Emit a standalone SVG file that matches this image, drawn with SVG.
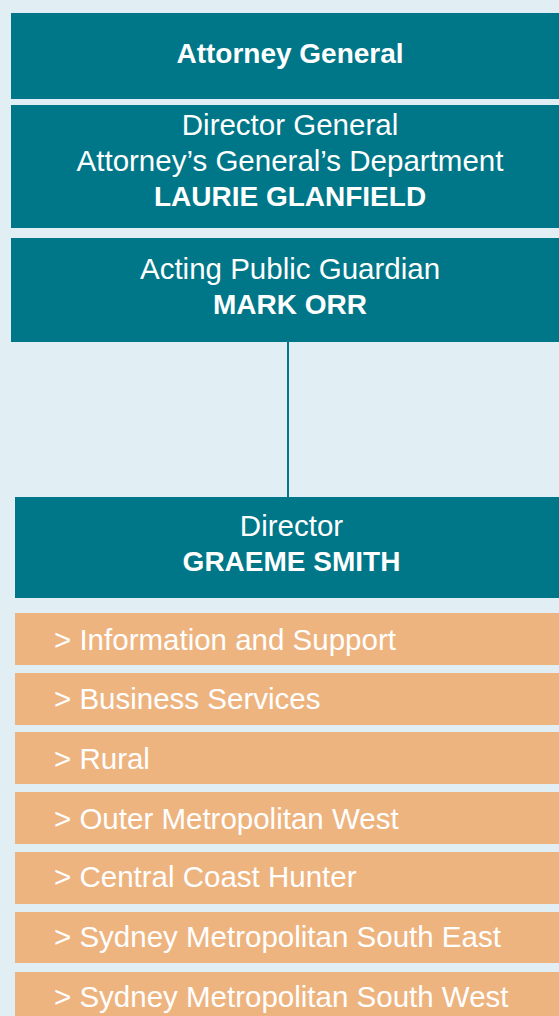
<svg xmlns="http://www.w3.org/2000/svg" width="559" height="1016" viewBox="0 0 559 1016">
  <style>
    .teal { fill: #007788; }
    .unit { fill: #eeb480; }
    .t { font-family: "Liberation Sans", Arial, Helvetica, sans-serif; font-size: 29.5px; fill: #ffffff; }
    .c { text-anchor: middle; }
    .b { font-weight: bold; font-size: 28px; }
    .link { stroke: #007788; stroke-width: 2; fill: none; }
  </style>
  <rect width="559" height="1016" fill="#e1eef3"/>

  <g id="connectors">
    <line class="link" x1="288" y1="342" x2="288" y2="497"/>
  </g>

  <g id="attorney-general">
    <rect class="teal" x="11" y="13" width="560" height="86"/>
    <text class="t c b" x="290" y="63">Attorney General</text>
  </g>

  <g id="director-general">
    <rect class="teal" x="11" y="105" width="560" height="123"/>
    <text class="t c" x="290" y="135">Director General</text>
    <text class="t c" x="290" y="171">Attorney’s General’s Department</text>
    <text class="t c b" x="290" y="206">LAURIE GLANFIELD</text>
  </g>

  <g id="public-guardian">
    <rect class="teal" x="11" y="238" width="560" height="104"/>
    <text class="t c" x="290" y="279">Acting Public Guardian</text>
    <text class="t c b" x="290" y="314">MARK ORR</text>
  </g>

  <g id="director">
    <rect class="teal" x="15" y="497" width="556" height="101"/>
    <text class="t c" x="291.5" y="536">Director</text>
    <text class="t c b" x="291.5" y="571">GRAEME SMITH</text>
  </g>

  <g id="unit-information-support">
    <rect class="unit" x="15" y="613" width="556" height="52"/>
    <text class="t" x="54" y="650">&gt; Information and Support</text>
  </g>
  <g id="unit-business-services">
    <rect class="unit" x="15" y="673" width="556" height="52"/>
    <text class="t" x="54" y="709">&gt; Business Services</text>
  </g>
  <g id="unit-rural">
    <rect class="unit" x="15" y="732" width="556" height="52"/>
    <text class="t" x="54" y="769">&gt; Rural</text>
  </g>
  <g id="unit-outer-metro-west">
    <rect class="unit" x="15" y="792" width="556" height="52"/>
    <text class="t" x="54" y="829">&gt; Outer Metropolitan West</text>
  </g>
  <g id="unit-central-coast-hunter">
    <rect class="unit" x="15" y="852" width="556" height="52"/>
    <text class="t" x="54" y="887">&gt; Central Coast Hunter</text>
  </g>
  <g id="unit-sydney-south-east">
    <rect class="unit" x="15" y="912" width="556" height="51"/>
    <text class="t" x="54" y="947">&gt; Sydney Metropolitan South East</text>
  </g>
  <g id="unit-sydney-south-west">
    <rect class="unit" x="15" y="972" width="556" height="60"/>
    <text class="t" x="54" y="1007">&gt; Sydney Metropolitan South West</text>
  </g>
</svg>
